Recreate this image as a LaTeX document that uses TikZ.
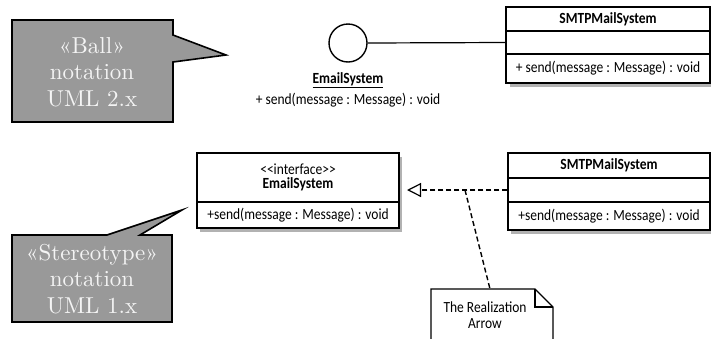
\documentclass[tikz,border=0pt]{standalone}
\usepackage{fontspec}
\newfontfamily\umlfont{Carlito}[FakeStretch=0.87]
\newfontfamily\callfont{lmroman10-regular.otf}
\usetikzlibrary{arrows.meta}
\definecolor{calloutgray}{HTML}{999999}
\definecolor{calltextcol}{HTML}{F4F4F4}
\begin{document}
\begin{tikzpicture}[x=1pt,y=-1pt,
  callout/.style={fill=calloutgray, draw=black, line width=1.6pt, line join=miter},
  calltext/.style={text=calltextcol, font=\callfont\fontsize{23}{26.5}\selectfont, align=center, inner sep=0pt},
  umltext/.style={font=\umlfont\fontsize{15.5}{16}\selectfont, inner sep=0pt},
  compart/.style={draw, line width=1.3pt, fill=white, inner sep=0pt, minimum width=#1, font=\umlfont\fontsize{15.5}{16}\selectfont},
  umlshadow/.style={fill=black!30},
  conn/.style={line width=1.2pt},
  dashconn/.style={line width=1.4pt, dash pattern=on 5pt off 3pt}
]
\useasboundingbox (0,0) rectangle (711,338);
\clip (0,0) rectangle (711,338);

% ---------- top callout ----------
\draw[callout] (12,20) -- (173,20) -- (173,35) -- (226,55) -- (173,62) -- (173,122) -- (12,122) -- cycle;
\node[calltext] (call1) at (92,72) {«Ball»\\notation\\UML 2.x};

% ---------- ball notation ----------
\node[circle, draw, line width=1.4pt, minimum size=38pt, inner sep=0pt] (ball) at (348,43) {};
\node[umltext, font=\umlfont\bfseries\fontsize{15.5}{16}\selectfont] (balllabel) at (348,80) {\underline{EmailSystem}};
\node[umltext] (ballop) at (348,100) {+ send(message : Message) : void};

% ---------- top SMTPMailSystem ----------
\fill[umlshadow] (510,11) rectangle (713,87);
\node[compart=204pt, minimum height=24pt] (s1head) at (608,19) {\bfseries SMTPMailSystem};
\node[compart=204pt, minimum height=23pt] (s1mid) at (608,42.5) {};
\node[compart=204pt, minimum height=29pt] (s1ops) at (608,68.5) {+ send(message : Message) : void};
\draw[conn] (ball.east) -- (s1mid.west);

% ---------- bottom callout ----------
\draw[callout] (12,235) -- (107,235) -- (182,210) -- (140,235) -- (172,235) -- (172,322) -- (12,322) -- cycle;
\node[calltext] (call2) at (92,279) {«Stereotype»\\notation\\UML 1.x};

% ---------- interface EmailSystem ----------
\fill[umlshadow] (200,157) rectangle (402,232);
\node[compart=202pt, minimum height=49pt, align=center, font=\umlfont\fontsize{15.5}{14}\selectfont] (ihead) at (298,177.5) {<<interface>>\\\bfseries EmailSystem};
\node[compart=202pt, minimum height=26pt] (iops) at (298,215) {+send(message : Message) : void};

% ---------- bottom SMTPMailSystem ----------
\fill[umlshadow] (511,157) rectangle (714,234);
\node[compart=202pt, minimum height=25pt] (s2head) at (609,165.5) {\bfseries SMTPMailSystem};
\node[compart=202pt, minimum height=24pt] (s2mid) at (609,190) {};
\node[compart=202pt, minimum height=28pt] (s2ops) at (609,216) {+send(message : Message) : void};

\coordinate (tip) at (407,190);
\coordinate (branch) at (465,190);
\draw[dashconn, -{Triangle[open, length=14pt, width=14pt, line width=1.2pt]}] (s2mid.west) -- (tip);

% ---------- note ----------
\draw[line width=1.4pt, fill=white] (431,345) -- (431,289) -- (535,289) -- (553,307) -- (553,345);
\draw[line width=1.4pt] (535,289) -- (535,307) -- (553,307);
\node[umltext, align=center] (note) at (485,315) {The Realization\\Arrow};
\draw[dashconn] (branch) -- (490,289);
\end{tikzpicture}
\end{document}
